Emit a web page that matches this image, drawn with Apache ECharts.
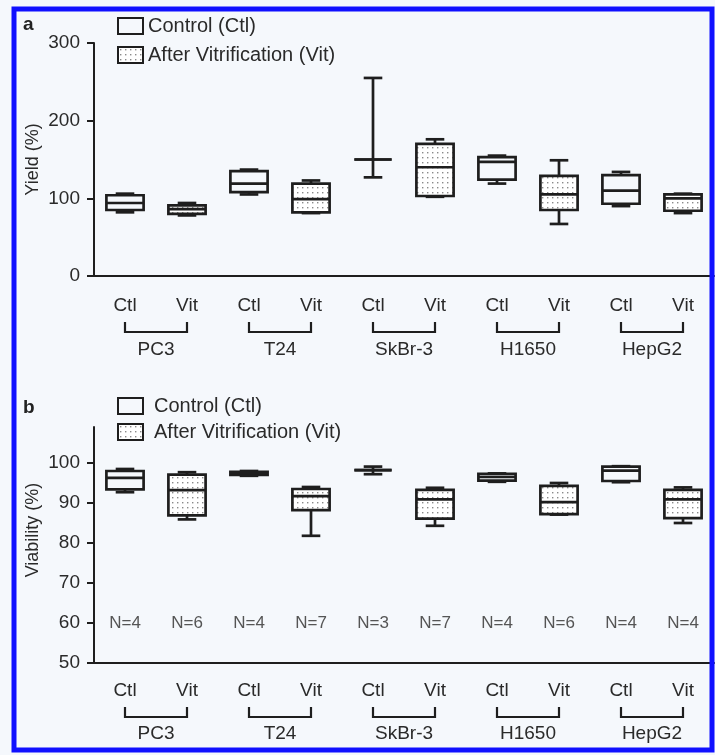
<!DOCTYPE html>
<html>
<head>
<meta charset="utf-8">
<script src="https://cdn.jsdelivr.net/npm/echarts@6/dist/echarts.min.js"></script>
<style>
html, body { margin: 0; padding: 0; background: #f5f8fc; }
#main { width: 715px; height: 755px; }
</style>
</head>
<body>
<div id="main"></div>
<script>
// 细胞系与条件
var cellLines = ['PC3', 'T24', 'SkBr-3', 'H1650', 'HepG2'];
var conditions = ['Ctl', 'Vit'];
// 箱线图数据 [min, Q1, median, Q3, max]
var yieldCtl = [[82, 85, 94, 104, 106], [105, 108, 119, 135, 137], [127, 150, 150, 150, 255], [119, 124, 147, 153, 155], [90, 93, 110, 130, 134]];
var yieldVit = [[78, 80, 86, 91, 94], [81, 82, 99, 119, 123], [102, 103, 140, 170, 176], [67, 85, 105, 129, 149], [81, 84, 100, 105, 106]];
var viabCtl = [[92.7, 93.4, 96.3, 98, 98.5], [96.8, 97, 97.4, 97.8, 98], [97.2, 98.2, 98.2, 98.2, 99.1], [95.3, 95.6, 96.5, 97.3, 97.4], [95.2, 95.5, 98.1, 99.1, 99.2]];
var viabVit = [[85.9, 86.9, 93.2, 97.1, 97.7], [81.8, 88.2, 91.7, 93.5, 94], [84.3, 86.1, 90.9, 93.3, 93.8], [87.1, 87.2, 90.2, 94.3, 95], [85, 86.2, 90.9, 93.3, 93.9]];
// 样本数
var nCtl = [4, 4, 3, 4, 4];
var nVit = [6, 7, 7, 6, 4];
// 刻度
var yieldTicks = [0, 100, 200, 300];
var viabTicks = [50, 60, 70, 80, 90, 100];

(function () {
	var myChart = echarts.init(document.getElementById('main'));
	var ink = '#1e1e1e';
	var bg = '#f5f8fc';
	var font = '"Liberation Sans", Arial, sans-serif';
	var ctlName = 'Control (Ctl)';
	var vitName = 'After Vitrification (Vit)';

	// 点状填充
	var cv = document.createElement('canvas');
	cv.width = 5; cv.height = 5;
	var cx2 = cv.getContext('2d');
	cx2.fillStyle = '#ffffff';
	cx2.fillRect(0, 0, 5, 5);
	cx2.fillStyle = '#8a8a8a';
	cx2.fillRect(2, 2, 1.4, 1.4);
	var dots = { image: cv, repeat: 'repeat' };

	var xCats = [];
	cellLines.forEach(function () { conditions.forEach(function (c) { xCats.push(c); }); });

	function boxData(arr, off) {
		return arr.map(function (b, i) { return [2 * i + off].concat(b); });
	}

	function renderBox(fill) {
		return function (params, api) {
			var x = api.value(0);
			var pMin = api.coord([x, api.value(1)]);
			var pQ1 = api.coord([x, api.value(2)]);
			var pMed = api.coord([x, api.value(3)]);
			var pQ3 = api.coord([x, api.value(4)]);
			var pMax = api.coord([x, api.value(5)]);
			var band = api.size([1, 0])[0];
			var bw = band * 0.6, cw = band * 0.3;
			var cx = pMed[0];
			var ls = { stroke: ink, lineWidth: 2.7 };
			return {
				type: 'group',
				children: [
					{ type: 'line', shape: { x1: cx, y1: pMax[1], x2: cx, y2: pQ3[1] }, style: ls },
					{ type: 'line', shape: { x1: cx, y1: pQ1[1], x2: cx, y2: pMin[1] }, style: ls },
					{ type: 'line', shape: { x1: cx - cw / 2, y1: pMax[1], x2: cx + cw / 2, y2: pMax[1] }, style: ls },
					{ type: 'line', shape: { x1: cx - cw / 2, y1: pMin[1], x2: cx + cw / 2, y2: pMin[1] }, style: ls },
					{ type: 'rect', shape: { x: cx - bw / 2, y: pQ3[1], width: bw, height: pQ1[1] - pQ3[1] }, style: { fill: fill, stroke: ink, lineWidth: 2.7 } },
					{ type: 'line', shape: { x1: cx - bw / 2, y1: pMed[1], x2: cx + bw / 2, y2: pMed[1] }, style: ls }
				]
			};
		};
	}

	// 括号 (Ctl - Vit)
	function renderBracket(top, h) {
		return function (params, api) {
			var yMin = api.value(2);
			var p1 = api.coord([api.value(0), yMin]);
			var p2 = api.coord([api.value(1), yMin]);
			var y0 = params.coordSys.y + params.coordSys.height + top;
			return {
				type: 'polyline',
				shape: { points: [[p1[0], y0], [p1[0], y0 + h], [p2[0], y0 + h], [p2[0], y0]] },
				style: { stroke: ink, lineWidth: 2.2, fill: null }
			};
		};
	}

	function renderN(params, api) {
		var p = api.coord([api.value(0), api.value(1)]);
		return {
			type: 'text', x: p[0], y: p[1],
			style: { text: 'N=' + api.value(2), fill: '#555', font: '17px ' + font, align: 'center', verticalAlign: 'middle' }
		};
	}

	var bracketData = function (yMin) {
		return cellLines.map(function (n, i) { return [2 * i, 2 * i + 1, yMin]; });
	};
	var nData = [];
	cellLines.forEach(function (n, i) {
		nData.push([2 * i, 60, nCtl[i]]);
		nData.push([2 * i + 1, 60, nVit[i]]);
	});

	function catAxis(gi, margin) {
		return {
			type: 'category', gridIndex: gi, data: xCats,
			axisLine: { lineStyle: { color: ink, width: 2 } },
			axisTick: { alignWithLabel: true, length: 9, lineStyle: { color: ink, width: 2 } },
			axisLabel: { color: '#2a2a2a', fontSize: 19, fontFamily: font, margin: margin }
		};
	}
	function groupAxis(gi, margin) {
		return {
			type: 'category', gridIndex: gi, data: cellLines, position: 'bottom',
			axisLine: { show: false }, axisTick: { show: false },
			axisLabel: { color: '#2a2a2a', fontSize: 19, fontFamily: font, margin: margin }
		};
	}
	function valAxis(gi, min, max, ticks, name, pad) {
		return {
			type: 'value', gridIndex: gi, min: min, max: max,
			name: name, nameLocation: 'middle', nameGap: 52, nameRotate: 90, nameMoveOverlap: false,
			nameTextStyle: { color: '#2a2a2a', fontSize: 18, fontFamily: font, padding: pad },
			splitLine: { show: false },
			axisLine: { show: true, lineStyle: { color: ink, width: 2 } },
			axisTick: { show: true, length: 7, customValues: ticks, lineStyle: { color: ink, width: 2 } },
			axisLabel: { color: '#2a2a2a', fontSize: 19, fontFamily: font, margin: 14, customValues: ticks }
		};
	}
	function legend(top, gap, pad) {
		return {
			top: top, left: 112, orient: 'vertical', itemWidth: 25, itemHeight: 16, itemGap: gap,
			selectedMode: false,
			textStyle: { color: '#2a2a2a', fontSize: 20, fontFamily: font, padding: pad },
			data: [
				{ name: ctlName, icon: 'rect', itemStyle: { color: bg, borderColor: ink, borderWidth: 2 } },
				{ name: vitName, icon: 'rect', itemStyle: { color: dots, borderColor: ink, borderWidth: 2 } }
			]
		};
	}

	var option = {
		backgroundColor: bg,
		animation: false,
		title: [
			{ text: 'a', left: 18, top: 10, textStyle: { fontSize: 19, fontWeight: 'bold', color: '#222', fontFamily: font } },
			{ text: 'b', left: 18, top: 393, textStyle: { fontSize: 19, fontWeight: 'bold', color: '#222', fontFamily: font } }
		],
		legend: [legend(11, 9, [0, 0, 0, 0]), legend(391, 6, [0, 0, 0, 6])],
		grid: [
			{ left: 94, top: 43, width: 620, height: 233 },
			{ left: 94, top: 427, width: 620, height: 236 }
		],
		xAxis: [catAxis(0, 20), groupAxis(0, 64), catAxis(1, 18), groupAxis(1, 61)],
		yAxis: [
			valAxis(0, 0, 300, yieldTicks, 'Yield (%)', [0, 0, 0, 0]),
			valAxis(1, 50, 109, viabTicks, 'Viability (%)', [0, 0, 0, 30])
		],
		graphic: [
			{ type: 'rect', z: 100, shape: { x: 14, y: 9, width: 698, height: 741 }, style: { fill: null, stroke: '#1010ff', lineWidth: 5 } }
		],
		series: [
			{ name: ctlName, type: 'custom', xAxisIndex: 0, yAxisIndex: 0, renderItem: renderBox(bg), encode: { x: 0, y: [1, 2, 3, 4, 5] }, data: boxData(yieldCtl, 0), itemStyle: { color: bg } },
			{ name: vitName, type: 'custom', xAxisIndex: 0, yAxisIndex: 0, renderItem: renderBox(dots), encode: { x: 0, y: [1, 2, 3, 4, 5] }, data: boxData(yieldVit, 1), itemStyle: { color: '#ccc' } },
			{ name: ctlName, type: 'custom', xAxisIndex: 2, yAxisIndex: 1, renderItem: renderBox(bg), encode: { x: 0, y: [1, 2, 3, 4, 5] }, data: boxData(viabCtl, 0), itemStyle: { color: bg } },
			{ name: vitName, type: 'custom', xAxisIndex: 2, yAxisIndex: 1, renderItem: renderBox(dots), encode: { x: 0, y: [1, 2, 3, 4, 5] }, data: boxData(viabVit, 1), itemStyle: { color: '#ccc' } },
			{ name: 'br1', type: 'custom', xAxisIndex: 0, yAxisIndex: 0, renderItem: renderBracket(46, 10), encode: { x: [0, 1], y: 2 }, data: bracketData(0), clip: false, silent: true },
			{ name: 'br2', type: 'custom', xAxisIndex: 2, yAxisIndex: 1, renderItem: renderBracket(44, 10), encode: { x: [0, 1], y: 2 }, data: bracketData(50), clip: false, silent: true },
			{ name: 'N', type: 'custom', xAxisIndex: 2, yAxisIndex: 1, renderItem: renderN, encode: { x: 0, y: 1 }, data: nData, silent: true }
		]
	};
	myChart.setOption(option);
})();
</script>
</body>
</html>
